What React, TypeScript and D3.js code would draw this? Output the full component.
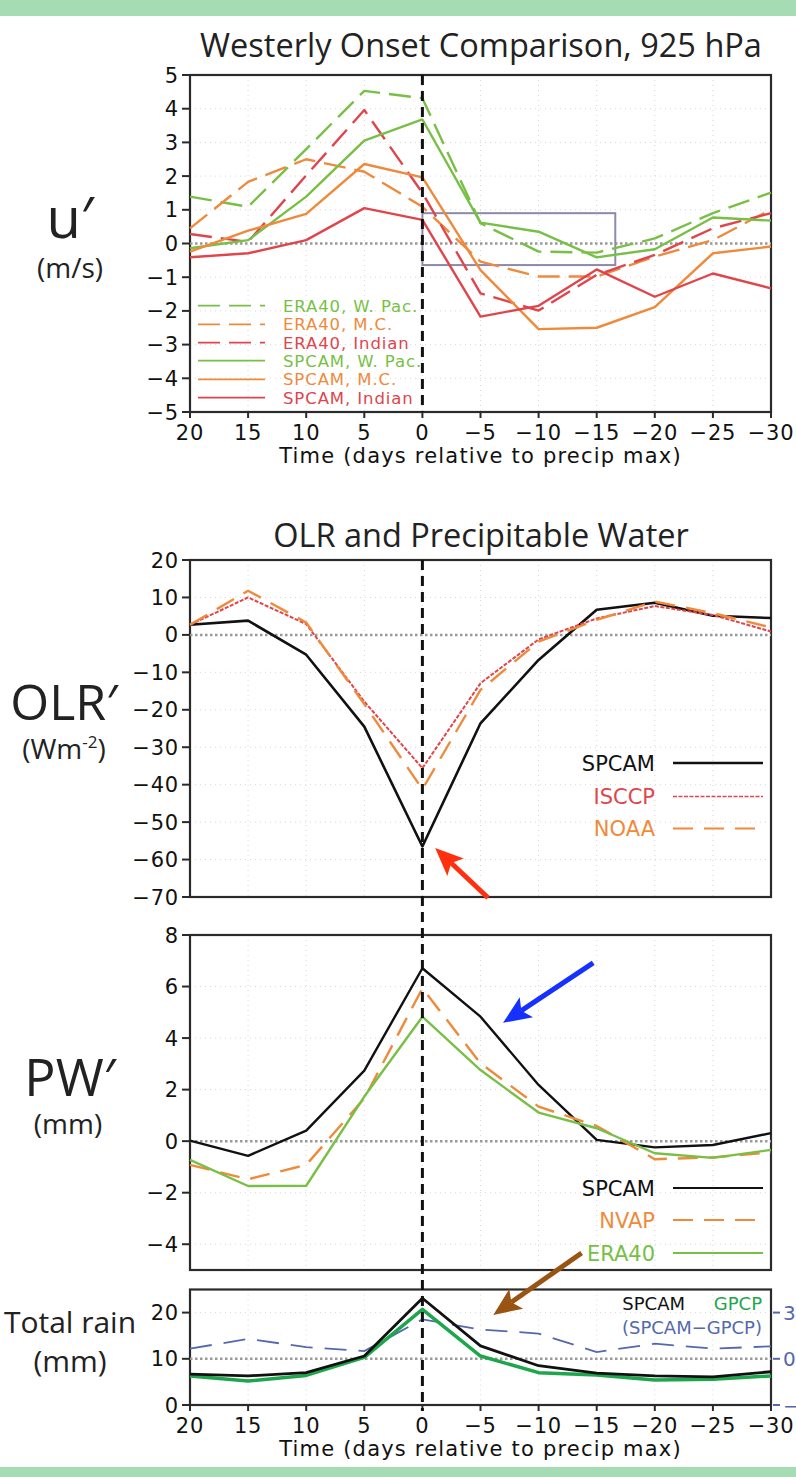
import * as d3 from "d3";

// days relative to precip max
const days = [20, 15, 10, 5, 0, -5, -10, -15, -20, -25, -30];

// u' 925 hPa (m/s)
const uEra40WPac = [1.39, 1.09, 2.8, 4.53, 4.31, 0.6, -0.24, -0.27, 0.15, 0.9, 1.51];
const uEra40MC = [0.45, 1.83, 2.5, 2.13, 1.09, -0.54, -0.98, -0.98, -0.39, 0.1, 1.01];
const uEra40Ind = [0.28, 0.05, 2.02, 3.96, 1.5, -1.48, -1.99, -0.93, -0.34, 0.45, 0.9];
const uSpcamWPac = [-0.14, 0.1, 1.39, 3.05, 3.68, 0.62, 0.35, -0.41, -0.17, 0.77, 0.68];
const uSpcamMC = [-0.24, 0.38, 0.88, 2.36, 1.96, -0.79, -2.54, -2.5, -1.89, -0.29, -0.09];
const uSpcamInd = [-0.41, -0.29, 0.1, 1.05, 0.7, -2.17, -1.85, -0.77, -1.58, -0.89, -1.33];

// OLR' (W m-2)
const olrSpcam = [2.7, 3.8, -5.3, -24.5, -56.5, -23.6, -6.7, 6.7, 8.6, 5.1, 4.5];
const olrIsccp = [2.7, 10, 2.9, -17.8, -35.6, -12.9, -1.2, 4.4, 7.7, 5.3, 0.9];
const olrNoaa = [2.7, 11.8, 3.3, -18.5, -41.2, -14.7, -1.8, 4.0, 8.9, 5.8, 2.0];

// PW' (mm)
const pwSpcam = [0.02, -0.57, 0.41, 2.74, 6.71, 4.83, 2.18, 0.05, -0.24, -0.15, 0.31];
const pwNvap = [-0.92, -1.48, -0.92, 1.66, 5.93, 3.02, 1.34, 0.59, -0.7, -0.63, -0.43];
const pwEra40 = [-0.73, -1.74, -1.73, 1.73, 4.83, 2.76, 1.11, 0.5, -0.47, -0.65, -0.34];

// total rain (mm) and difference (right axis)
const rainSpcam = [6.7, 6.3, 7.0, 10.6, 23.1, 12.8, 8.5, 6.9, 6.3, 6.1, 7.2];
const rainGpcp = [6.3, 5.2, 6.4, 10.3, 20.7, 10.6, 7.0, 6.5, 5.4, 5.6, 6.3];
const rainDiff = [0.66, 1.29, 0.76, 0.5, 2.56, 1.9, 1.64, 0.44, 0.98, 0.66, 0.81];

const uTicks = [5, 4, 3, 2, 1, 0, -1, -2, -3, -4, -5];
const olrTicks = [20, 10, 0, -10, -20, -30, -40, -50, -60, -70];
const pwTicks = [8, 6, 4, 2, 0, -2, -4];
const rainTicks = [0, 10, 20];
const diffTicks = [3, 0, -3];

const GREEN = "#78bf45";
const ORANGE = "#ef8a3c";
const RED = "#e0454b";
const DGREEN = "#1ea64c";
const BLUE = "#5468ad";

const TICKFONT = "DejaVu Sans";
const LABELFONT = "'Open Sans', 'Noto Sans', sans-serif";
const fmt = d3.format("d");

const X0 = 190;
const X1 = 771;
const x = d3.scaleLinear().domain([20, -30]).range([X0, X1]);
const yU = d3.scaleLinear().domain([-5, 5]).range([412, 75]);
const yOlr = d3.scaleLinear().domain([-70, 20]).range([897, 560]);
const yPw = d3.scaleLinear().domain([-5, 8]).range([1270, 935]);
const yRain = d3.scaleLinear().domain([0, 25]).range([1405, 1289.5]);
const yDiff = d3.scaleLinear().domain([-3, 4.5]).range([1405, 1289.5]);

const mkLine = (y: d3.ScaleLinear<number, number>) =>
  d3
    .line<number>()
    .x((_, i) => x(days[i]))
    .y((v) => y(v));

type Series = { name: string; values: number[]; color: string; dash?: string; width: number };

const uSeries: Series[] = [
  { name: "ERA40, W. Pac.", values: uEra40WPac, color: GREEN, dash: "22 9", width: 2.4 },
  { name: "ERA40, M.C.", values: uEra40MC, color: ORANGE, dash: "22 9", width: 2.4 },
  { name: "ERA40, Indian", values: uEra40Ind, color: RED, dash: "22 9", width: 2.4 },
  { name: "SPCAM, W. Pac.", values: uSpcamWPac, color: GREEN, width: 2.4 },
  { name: "SPCAM, M.C.", values: uSpcamMC, color: ORANGE, width: 2.4 },
  { name: "SPCAM, Indian", values: uSpcamInd, color: RED, width: 2.4 },
];

const olrSeries: Series[] = [
  { name: "SPCAM", values: olrSpcam, color: "#111", width: 2.6 },
  { name: "ISCCP", values: olrIsccp, color: RED, dash: "4 1.5", width: 2 },
  { name: "NOAA", values: olrNoaa, color: ORANGE, dash: "20 11", width: 2.4 },
];

const pwSeries: Series[] = [
  { name: "SPCAM", values: pwSpcam, color: "#111", width: 2.4 },
  { name: "NVAP", values: pwNvap, color: ORANGE, dash: "20 11", width: 2.4 },
  { name: "ERA40", values: pwEra40, color: GREEN, width: 2.4 },
];

const rainSeries: Series[] = [
  { name: "GPCP", values: rainGpcp, color: DGREEN, width: 3.5 },
  { name: "SPCAM", values: rainSpcam, color: "#111", width: 2.8 },
];

function Frame({
  y,
  ticks,
  xLabels,
}: {
  y: d3.ScaleLinear<number, number>;
  ticks: number[];
  xLabels: boolean;
}) {
  const [b, t] = y.range();
  return (
    <g>
      {/* faint grid */}
      {days.slice(1, -1).map((d) => (
        <line key={"gx" + d} x1={x(d)} x2={x(d)} y1={t} y2={b} stroke="#d8d8d8" strokeWidth={1} strokeDasharray="1 4" />
      ))}
      {ticks.map((v) => (
        <line key={"gy" + v} x1={X0} x2={X1} y1={y(v)} y2={y(v)} stroke="#d8d8d8" strokeWidth={1} strokeDasharray="1 4" />
      ))}
      <rect x={X0} y={t} width={X1 - X0} height={b - t} fill="none" stroke="#2a2a2a" strokeWidth={2.2} />
      {ticks.map((v) => (
        <g key={"ty" + v}>
          <line x1={X0 - 8} x2={X0} y1={y(v)} y2={y(v)} stroke="#2a2a2a" strokeWidth={2} />
          <text
            x={X0 - 11}
            y={y(v) + 7.5}
            textAnchor="end"
            fontFamily={TICKFONT}
            fontSize={21}
            letterSpacing={0.8}
            fill="#111"
          >
            {fmt(v)}
          </text>
        </g>
      ))}
      {xLabels && (
        <g>
          {days.map((d) => (
            <g key={"tx" + d}>
              <line x1={x(d)} x2={x(d)} y1={b} y2={b + 6} stroke="#2a2a2a" strokeWidth={2} />
              <text
                x={x(d)}
                y={b + 28}
                textAnchor="middle"
                fontFamily={TICKFONT}
                fontSize={21}
                letterSpacing={0.8}
                fill="#111"
              >
                {fmt(d)}
              </text>
            </g>
          ))}
          <text
            x={(X0 + X1) / 2}
            y={b + 51}
            textAnchor="middle"
            fontFamily={TICKFONT}
            fontSize={21}
            letterSpacing={1.2}
            fill="#111"
          >
            Time (days relative to precip max)
          </text>
        </g>
      )}
    </g>
  );
}

function Lines({ series, y }: { series: Series[]; y: d3.ScaleLinear<number, number> }) {
  const line = mkLine(y);
  return (
    <g fill="none" strokeLinejoin="round">
      {series.map((s) => (
        <path key={s.name} d={line(s.values) ?? ""} stroke={s.color} strokeWidth={s.width} strokeDasharray={s.dash} />
      ))}
    </g>
  );
}

function ZeroLine({ y }: { y: d3.ScaleLinear<number, number> }) {
  return <line x1={X0} x2={X1} y1={y(0)} y2={y(0)} stroke="#999" strokeWidth={2.5} strokeDasharray="2.5 2.5" />;
}

function Arrow({ x1, y1, x2, y2, color }: { x1: number; y1: number; x2: number; y2: number; color: string }) {
  const dx = x2 - x1;
  const dy = y2 - y1;
  const len = Math.hypot(dx, dy);
  const ux = dx / len;
  const uy = dy / len;
  const hl = 28;
  const hw = 12;
  const bx = x2 - ux * hl;
  const by = y2 - uy * hl;
  const nx = x2 - ux * (hl - 6);
  const ny = y2 - uy * (hl - 6);
  const px = -uy;
  const py = ux;
  const pts = [
    [x2, y2],
    [bx + px * hw, by + py * hw],
    [nx, ny],
    [bx - px * hw, by - py * hw],
  ]
    .map((p) => p.join(","))
    .join(" ");
  return (
    <g>
      <line x1={x1} y1={y1} x2={nx} y2={ny} stroke={color} strokeWidth={5} />
      <polygon points={pts} fill={color} />
    </g>
  );
}

// annotation arrows in data coordinates: [day, value]
const redArrow = { from: [-5.65, -70.2], to: [-1.1, -56.9] };
const blueArrow = { from: [-14.7, 6.92], to: [-6.94, 4.59] };
const brownArrow = { from: [-13.7, 32.9], to: [-6.1, 19.5] };

export default function App() {
  const legendRowsU = [305.7, 324.3, 342.7, 360.7, 379.3, 397.7];
  return (
    <svg
      width={796}
      height={1477}
      viewBox="0 0 796 1477"
      style={{ position: "absolute", left: 0, top: 0, background: "#fff" }}
    >
      <rect x={0} y={0} width={796} height={16} fill="#a6dcb4" />
      <rect x={0} y={1467} width={796} height={10} fill="#a6dcb4" />

      {/* ---------- u' panel ---------- */}
      <text x={481} y={57} textAnchor="middle" fontFamily={LABELFONT} fontSize={32.5} fill="#222">
        Westerly Onset Comparison, 925 hPa
      </text>
      <Frame y={yU} ticks={uTicks} xLabels={true} />
      <ZeroLine y={yU} />
      <rect
        x={x(0)}
        y={yU(0.9)}
        width={x(-16.6) - x(0)}
        height={yU(-0.64) - yU(0.9)}
        fill="none"
        stroke="#8a8aaa"
        strokeWidth={2}
      />
      <Lines series={uSeries} y={yU} />
      {uSeries.map((s, i) => (
        <g key={"lg" + s.name}>
          <line
            x1={198}
            x2={265}
            y1={legendRowsU[i]}
            y2={legendRowsU[i]}
            stroke={s.color}
            strokeWidth={1.8}
            strokeDasharray={s.dash}
          />
          <text
            x={283}
            y={legendRowsU[i] + 6}
            fontFamily={TICKFONT}
            fontSize={16.5}
            letterSpacing={0.9}
            fill={s.color}
          >
            {s.name}
          </text>
        </g>
      ))}
      <line x1={x(0)} x2={x(0)} y1={yU(5)} y2={yU(-5)} stroke="#111" strokeWidth={3} strokeDasharray="10 6" />
      <text x={70} y={238} textAnchor="middle" fontFamily={LABELFONT} fontSize={56} fill="#222">
        u′
      </text>
      <text x={70} y={278} textAnchor="middle" fontFamily={LABELFONT} fontSize={28} fill="#222">
        (m/s)
      </text>

      {/* ---------- OLR panel ---------- */}
      <text x={481} y={547} textAnchor="middle" fontFamily={LABELFONT} fontSize={32.5} fill="#222">
        OLR and Precipitable Water
      </text>
      <Frame y={yOlr} ticks={olrTicks} xLabels={false} />
      <ZeroLine y={yOlr} />
      <Lines series={olrSeries} y={yOlr} />
      {olrSeries.map((s, i) => {
        const ly = [763, 796.5, 828.5][i];
        return (
          <g key={"lo" + s.name}>
            <text x={655} y={ly + 7.5} textAnchor="end" fontFamily={TICKFONT} fontSize={21} fill={s.color}>
              {s.name}
            </text>
            <line x1={673} x2={763} y1={ly} y2={ly} stroke={s.color} strokeWidth={s.width - 0.3} strokeDasharray={s.dash} />
          </g>
        );
      })}
      <text x={64} y={720} textAnchor="middle" fontFamily={LABELFONT} fontSize={50} fill="#222">
        OLR′
      </text>
      <text x={64} y={759} textAnchor="middle" fontFamily={LABELFONT} fontSize={28} fill="#222">
        (Wm
        <tspan fontSize={17} dy={-11}>
          -2
        </tspan>
        <tspan dy={11}>)</tspan>
      </text>

      {/* ---------- PW panel ---------- */}
      <Frame y={yPw} ticks={pwTicks} xLabels={false} />
      <ZeroLine y={yPw} />
      <Lines series={pwSeries} y={yPw} />
      {pwSeries.map((s, i) => {
        const ly = [1188, 1220, 1253][i];
        return (
          <g key={"lp" + s.name}>
            <text x={655} y={ly + 7.5} textAnchor="end" fontFamily={TICKFONT} fontSize={21} fill={s.color}>
              {s.name}
            </text>
            <line x1={673} x2={763} y1={ly} y2={ly} stroke={s.color} strokeWidth={s.width - 0.3} strokeDasharray={s.dash} />
          </g>
        );
      })}
      <text x={70} y={1096} textAnchor="middle" fontFamily={LABELFONT} fontSize={52} fill="#222">
        PW′
      </text>
      <text x={68} y={1134} textAnchor="middle" fontFamily={LABELFONT} fontSize={28} fill="#222">
        (mm)
      </text>

      {/* ---------- rain panel ---------- */}
      <Frame y={yRain} ticks={rainTicks} xLabels={true} />
      <ZeroLine y={yDiff} />
      <path
        d={mkLine(yDiff)(rainDiff) ?? ""}
        fill="none"
        stroke={BLUE}
        strokeWidth={1.8}
        strokeDasharray="22 12"
      />
      <Lines series={rainSeries} y={yRain} />
      {diffTicks.map((v) => (
        <g key={"rd" + v}>
          <line x1={X1 + 2} x2={X1 + 9} y1={yDiff(v)} y2={yDiff(v)} stroke={BLUE} strokeWidth={2} />
          <text x={783} y={yDiff(v) + 7.5} fontFamily={TICKFONT} fontSize={20} fill={BLUE}>
            {fmt(v)}
          </text>
        </g>
      ))}
      <text x={685} y={1310} textAnchor="end" fontFamily={TICKFONT} fontSize={18} fill="#111">
        SPCAM
      </text>
      <text x={762} y={1310} textAnchor="end" fontFamily={TICKFONT} fontSize={18} fill={DGREEN}>
        GPCP
      </text>
      <text x={762} y={1334} textAnchor="end" fontFamily={TICKFONT} fontSize={18} fill={BLUE}>
        (SPCAM−GPCP)
      </text>
      <text x={70} y={1333} textAnchor="middle" fontFamily={LABELFONT} fontSize={30} fill="#222">
        Total rain
      </text>
      <text x={70} y={1372} textAnchor="middle" fontFamily={LABELFONT} fontSize={30} fill="#222">
        (mm)
      </text>

      {/* dashed reference line at day 0 through the lower panels */}
      <line x1={x(0)} x2={x(0)} y1={yOlr(20)} y2={1411} stroke="#111" strokeWidth={3} strokeDasharray="10 6" />

      <Arrow
        x1={x(redArrow.from[0])}
        y1={yOlr(redArrow.from[1])}
        x2={x(redArrow.to[0])}
        y2={yOlr(redArrow.to[1])}
        color="#ff3010"
      />
      <Arrow
        x1={x(blueArrow.from[0])}
        y1={yPw(blueArrow.from[1])}
        x2={x(blueArrow.to[0])}
        y2={yPw(blueArrow.to[1])}
        color="#1530ff"
      />
      <Arrow
        x1={x(brownArrow.from[0])}
        y1={yRain(brownArrow.from[1])}
        x2={x(brownArrow.to[0])}
        y2={yRain(brownArrow.to[1])}
        color="#9a5412"
      />
    </svg>
  );
}
